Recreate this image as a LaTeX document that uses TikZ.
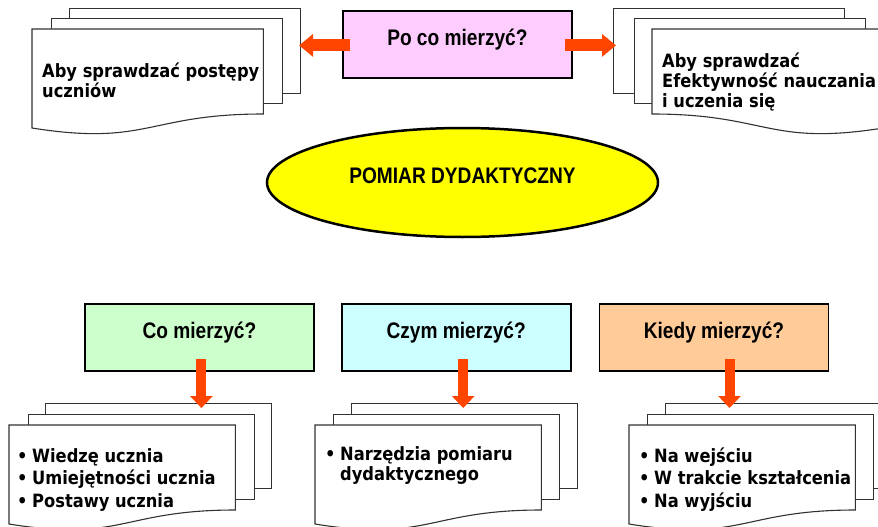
\documentclass[tikz,border=0pt]{standalone}
\usepackage{fontspec}
\usepackage{xcolor}
\usepackage{tikz}
\usetikzlibrary{positioning,arrows.meta,calc,shapes.geometric}

\newfontfamily\kartkafont[FakeStretch=0.89]{DejaVu Sans}
\newfontfamily\tytulfont[FakeStretch=0.85]{Liberation Sans}

\definecolor{rozowy}{RGB}{255,204,255}
\definecolor{zielony}{RGB}{204,255,204}
\definecolor{blekitny}{RGB}{204,255,255}
\definecolor{morelowy}{RGB}{255,204,153}
\definecolor{zolty}{RGB}{255,255,0}
\definecolor{czerwony}{RGB}{255,69,0}
\definecolor{ramka}{RGB}{50,50,50}

% front sheet with a wavy bottom, drawn over the corners of an empty node
\newcommand{\fala}[1]{%
  \draw[kartka] (#1.north west) -- (#1.north east) -- ($(#1.north east)+(0,85)$)
    .. controls ($(#1.north)+(0,85)$) and ($(#1.north)+(0,117.4)$) .. ($(#1.north west)+(0,99)$) -- cycle;}
% the same sheet, mirrored
\newcommand{\falaodwr}[1]{%
  \draw[kartka] (#1.north east) -- (#1.north west) -- ($(#1.north west)+(0,85)$)
    .. controls ($(#1.north)+(0,85)$) and ($(#1.north)+(0,117.4)$) .. ($(#1.north east)+(0,99)$) -- cycle;}

\begin{document}
\begin{tikzpicture}[
        x=1pt, y=-1pt,
        kartka/.style={draw=ramka, fill=white, line width=1.1pt},
        tyl/.style={kartka, anchor=north west, minimum width=#1, minimum height=85pt, inner sep=0pt},
        tyl/.default=231pt,
        przod/.style={anchor=north west, minimum width=#1, minimum height=106pt, inner sep=0pt},
        przod/.default=231pt,
        tekst/.style={anchor=north west, align=left, inner sep=0pt, font=\kartkafont\bfseries\fontsize{18.3pt}{20pt}\selectfont},
        pytanie/.style={draw, line width=1.8pt, anchor=north west, minimum width=229pt, minimum height=67pt,
            text height=16pt, text depth=14.5pt, font=\tytulfont\bfseries\fontsize{22.5pt}{26pt}\selectfont},
        strzalka/.style={draw=czerwony, line width=12pt, -{Triangle[length=14pt,width=22pt]}},
        strzalkadol/.style={draw=czerwony, line width=10pt, -{Triangle[length=12pt,width=22pt]}}
    ]
        \useasboundingbox (0,0) rectangle (878,527);
        \clip (0,0) rectangle (878,527);

        % top left stack
        \node[tyl] (tlTyl) at (69,8) {};
        \node[tyl, below left=10pt and 18pt of tlTyl.north west, anchor=north west] (tlSrodek) {};
        \node[przod, below left=11pt and 19pt of tlSrodek.north west, anchor=north west] (tlPrzod) {};
        \fala{tlPrzod}
        \node[tekst] (tlTekst) at ($(tlPrzod.north west)+(10,33.4)$) {Aby sprawdzać postępy\\uczniów};

        % top right stack
        \node[tyl] (trTyl) at (613,8) {};
        \node[tyl, below right=10pt and 21pt of trTyl.north west, anchor=north west] (trSrodek) {};
        \node[przod, below right=11pt and 18pt of trSrodek.north west, anchor=north west] (trPrzod) {};
        \falaodwr{trPrzod}
        \node[tekst] (trTekst) at ($(trPrzod.north west)+(10,23.4)$) {Aby sprawdzać\\Efektywność nauczania\\i uczenia się};

        \node[pytanie, fill=rozowy] (poco) at (342,10) {Po co mierzyć?};

        \node[ellipse, draw, line width=2.5pt, fill=zolty, minimum width=391pt, minimum height=109pt,
            text height=16pt, text depth=14pt, font=\tytulfont\bfseries\fontsize{22.5pt}{26pt}\selectfont]
            (pomiar) at (462.5,182.5) {POMIAR DYDAKTYCZNY};

        % question boxes
        \node[pytanie, fill=zielony] (co) at (84,303) {Co mierzyć?};
        \node[pytanie, fill=blekitny, right=26pt of co] (czym) {Czym mierzyć?};
        \node[pytanie, fill=morelowy, right=27pt of czym] (kiedy) {Kiedy mierzyć?};

        % bottom stacks
        \node[tyl=226pt] (coTyl) at (45,403) {};
        \node[tyl=226pt, below left=11pt and 17pt of coTyl.north west, anchor=north west] (coSrodek) {};
        \node[przod=226pt, below left=11pt and 19pt of coSrodek.north west, anchor=north west] (coPrzod) {};
        \fala{coPrzod}
        \node[tekst] (coTekst) at ($(coPrzod.north west)+(8,23)$)
            {\makebox[15pt][l]{\textbullet}Wiedzę ucznia\\[2.5pt]\makebox[15pt][l]{\textbullet}Umiejętności ucznia\\[2.5pt]\makebox[15pt][l]{\textbullet}Postawy ucznia};

        \node[tyl=226pt] (czymTyl) at (351,403) {};
        \node[tyl=226pt, below left=11pt and 18pt of czymTyl.north west, anchor=north west] (czymSrodek) {};
        \node[przod=226pt, below left=11pt and 18pt of czymSrodek.north west, anchor=north west] (czymPrzod) {};
        \fala{czymPrzod}
        \node[tekst] (czymTekst) at ($(czymPrzod.north west)+(10,21)$)
            {\makebox[15pt][l]{\textbullet}Narzędzia pomiaru\\\makebox[15pt][l]{}dydaktycznego};

        \node[tyl=226pt] (kiedyTyl) at (665,403) {};
        \node[tyl=226pt, below left=11pt and 18pt of kiedyTyl.north west, anchor=north west] (kiedySrodek) {};
        \node[przod=226pt, below left=11pt and 18pt of kiedySrodek.north west, anchor=north west] (kiedyPrzod) {};
        \fala{kiedyPrzod}
        \node[tekst] (kiedyTekst) at ($(kiedyPrzod.north west)+(10,22.4)$)
            {\makebox[15pt][l]{\textbullet}Na wejściu\\[2.5pt]\makebox[15pt][l]{\textbullet}W trakcie kształcenia\\[2.5pt]\makebox[15pt][l]{\textbullet}Na wyjściu};

        % arrows
        \draw[strzalka] ($(poco.west)+(8,1)$) -- ($(poco.west -| tlTyl.east)+(-2,1)$);
        \draw[strzalka] ($(poco.east)+(-8,1)$) -- ($(poco.east -| trTyl.west)+(3,1)$);
        \draw[strzalkadol] ($(co.south)+(2,-13)$) -- ($(co.south |- coTyl.north)+(2,5)$);
        \draw[strzalkadol] ($(czym.south)+(7,-13)$) -- ($(czym.south |- czymTyl.north)+(7,5)$);
        \draw[strzalkadol] ($(kiedy.south)+(15.5,-13)$) -- ($(kiedy.south |- kiedyTyl.north)+(15.5,5)$);
    \end{tikzpicture}
\end{document}
